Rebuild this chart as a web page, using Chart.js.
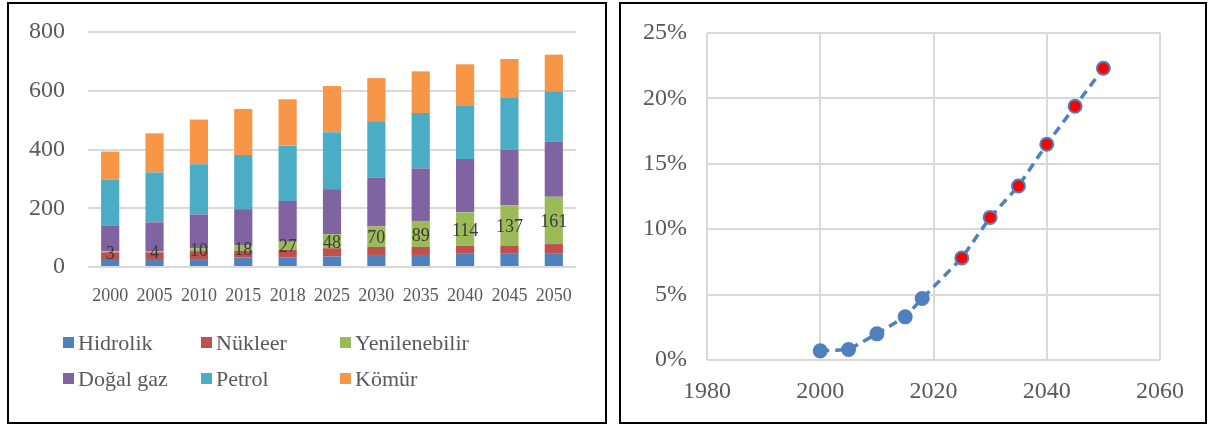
<!DOCTYPE html>
<html>
<head>
<meta charset="utf-8">
<script src="https://cdn.jsdelivr.net/npm/chart.js@4.4.1/dist/chart.umd.min.js"></script>
<style>
  html, body { margin: 0; padding: 0; background: #fff; width: 1208px; height: 425px; overflow: hidden; }
  .panel { position: absolute; border: 2px solid #000; box-sizing: border-box; background: #fff; }
  #p1 { left: 7px; top: 2px; width: 600px; height: 422px; }
  #p2 { left: 619px; top: 2px; width: 588px; height: 422px; }
  canvas { position: absolute; left: 0; top: 0; }
  #legend { position: absolute; left: 0; top: 0; width: 596px; height: 418px; pointer-events: none; }
  .lg { position: absolute; font-family: "Liberation Serif", "DejaVu Serif", serif; font-size: 22px; color: #595959; white-space: nowrap; line-height: 24px; }
  .lg i { position: absolute; left: 0; top: 6px; width: 11px; height: 11px; }
  .lg span { position: absolute; left: 15px; top: 0; }
</style>
</head>
<body>
<div class="panel" id="p1"><canvas id="c1" width="596" height="418"></canvas><div id="legend"></div></div>
<div class="panel" id="p2"><canvas id="c2" width="584" height="418"></canvas></div>
<script>
// ---- Data (left chart) ----
const years = ['2000','2005','2010','2015','2018','2025','2030','2035','2040','2045','2050'];
const hidrolik      = [24, 24, 27, 32, 32, 36, 41, 41, 45, 45, 45];
const nukleer       = [26, 26, 27, 23, 27, 28, 27, 27, 27, 28, 33];
const yenilenebilir = [3, 4, 10, 18, 27, 48, 70, 89, 114, 137, 161];
const dogalgaz      = [87, 98, 115, 124, 139, 153, 166, 178, 182, 189, 188];
const petrol        = [157, 170, 171, 184, 189, 194, 192, 189, 183, 176, 171];
const komur         = [96, 133, 152, 157, 157, 157, 147, 142, 139, 133, 125];
const seriesNames   = ['Hidrolik', 'Nükleer', 'Yenilenebilir', 'Doğal gaz', 'Petrol', 'Kömür'];
const yTicksLeft    = [0, 200, 400, 600, 800];

// ---- Data (right chart) ----
const shareYears = [2000, 2005, 2010, 2015, 2018, 2025, 2030, 2035, 2040, 2045, 2050];
const sharePct   = [0.7, 0.8, 2.0, 3.3, 4.7, 7.8, 10.9, 13.3, 16.5, 19.4, 22.3];
const xTicksRight = [1980, 2000, 2020, 2040, 2060];
const yTicksRight = [0, 5, 10, 15, 20, 25];

const colors = ['#4F81BD', '#C0504D', '#9BBB59', '#8064A2', '#4BACC6', '#F79646'];
const serif = '"Liberation Serif", "DejaVu Serif", serif';
const grey = '#595959';
const gridCol = '#d9d9d9';
const clear = 'rgba(0,0,0,0)';

const valueArrays = [hidrolik, nukleer, yenilenebilir, dogalgaz, petrol, komur];

const labelPlugin = {
  id: 'renewLabels',
  afterDatasetsDraw(chart) {
    const meta = chart.getDatasetMeta(2);
    const ctx = chart.ctx;
    ctx.save();
    ctx.font = '18px ' + serif;
    ctx.fillStyle = '#3a3a3a';
    ctx.textAlign = 'center';
    ctx.textBaseline = 'middle';
    meta.data.forEach((el, i) => {
      ctx.fillText(String(yenilenebilir[i]), el.x, (el.y + el.base) / 2 + 2);
    });
    ctx.restore();
  }
};

new Chart(document.getElementById('c1'), {
  type: 'bar',
  data: {
    labels: years,
    datasets: valueArrays.map((arr, k) => ({
      label: seriesNames[k],
      data: arr,
      backgroundColor: colors[k],
      borderWidth: 0,
      categoryPercentage: 1.0,
      barPercentage: 0.41
    }))
  },
  options: {
    responsive: false,
    animation: false,
    events: [],
    layout: { padding: { left: 0, right: 29, top: 28, bottom: 119 } },
    plugins: { legend: { display: false }, tooltip: { enabled: false } },
    scales: {
      x: {
        stacked: true,
        grid: { display: false },
        border: { display: false },
        ticks: { color: grey, font: { family: serif, size: 18 }, padding: 10, maxRotation: 0, autoSkip: false },
        afterFit(s) { s.height = 36; }
      },
      y: {
        stacked: true,
        min: 0, max: 800,
        afterBuildTicks(s) { s.ticks = yTicksLeft.map(v => ({ value: v })); },
        grid: { color: gridCol, lineWidth: 2, drawTicks: true, tickLength: 23, tickColor: clear },
        border: { display: false },
        ticks: { color: grey, font: { family: serif, size: 24 }, padding: 0 },
        afterFit(s) { s.width = 79; }
      }
    }
  },
  plugins: [labelPlugin]
});

// HTML legend built from the series names/colours
const legendPos = [[63, 331], [201, 331], [340, 331], [63, 367], [201, 367], [340, 367]];
const lg = document.getElementById('legend');
seriesNames.forEach((name, k) => {
  const d = document.createElement('div');
  d.className = 'lg';
  d.style.left = (legendPos[k][0] - 9) + 'px';
  d.style.top = (legendPos[k][1] - 4) + 'px';
  d.innerHTML = '<i style="background:' + colors[k] + '"></i><span>' + name + '</span>';
  lg.appendChild(d);
});

const pointFill = shareYears.map(y => y <= 2018 ? '#4F81BD' : '#FF0000');

new Chart(document.getElementById('c2'), {
  type: 'scatter',
  data: {
    datasets: [{
      data: shareYears.map((x, i) => ({ x: x, y: sharePct[i] })),
      showLine: true,
      borderColor: '#4F81BD',
      borderWidth: 3.5,
      borderDash: [9, 6],
      pointRadius: 6.5,
      pointBorderWidth: 2,
      pointBorderColor: '#4F81BD',
      pointBackgroundColor: pointFill
    }]
  },
  options: {
    responsive: false,
    animation: false,
    events: [],
    layout: { padding: { left: 0, right: 45, top: 29, bottom: 16 } },
    plugins: { legend: { display: false }, tooltip: { enabled: false } },
    scales: {
      x: {
        type: 'linear',
        min: 1980, max: 2060,
        afterBuildTicks(s) { s.ticks = xTicksRight.map(v => ({ value: v })); },
        grid: { color: gridCol, lineWidth: 2, drawTicks: true, tickLength: 17, tickColor: clear },
        border: { display: false },
        ticks: { color: grey, font: { family: serif, size: 24 }, padding: 0, callback: v => String(v) },
        afterFit(s) { s.height = 46; }
      },
      y: {
        min: 0, max: 25,
        afterBuildTicks(s) { s.ticks = yTicksRight.map(v => ({ value: v })); },
        grid: { color: gridCol, lineWidth: 2, drawTicks: true, tickLength: 20, tickColor: clear },
        border: { display: false },
        ticks: { color: grey, font: { family: serif, size: 24 }, padding: 0, callback: v => v + '%' },
        afterFit(s) { s.width = 86; }
      }
    }
  }
});
</script>
</body>
</html>
